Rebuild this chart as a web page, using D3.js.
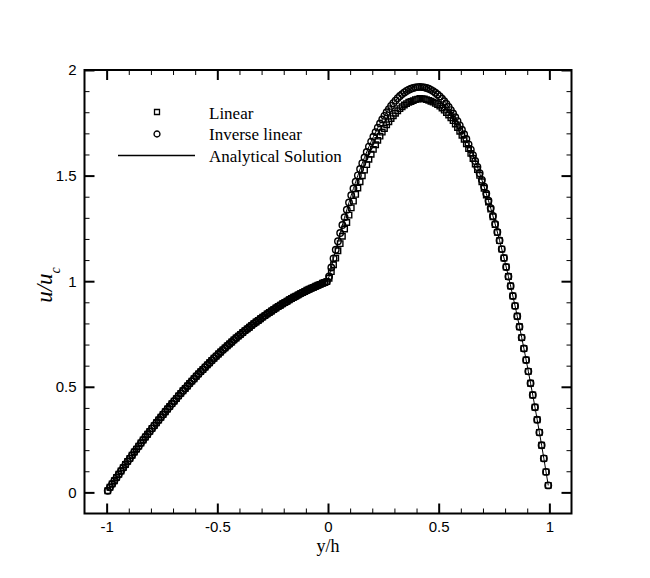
<!DOCTYPE html>
<html>
<head>
<meta charset="utf-8">
<script src="https://cdn.jsdelivr.net/npm/d3@7"></script>
<style>
  body { margin: 0; background: #fff; }
  .tick text { font-family: "Liberation Sans", Arial, sans-serif; font-size: 15px; fill: #000; }
</style>
</head>
<body>
<script>
// y/h positions, lower half and upper half of the channel
const yhLeft = [-0.995,-0.985,-0.975,-0.965,-0.955,-0.945,-0.935,-0.925,-0.915,-0.905,
  -0.895,-0.885,-0.875,-0.865,-0.855,-0.845,-0.835,-0.825,-0.815,-0.805,
  -0.795,-0.785,-0.775,-0.765,-0.755,-0.745,-0.735,-0.725,-0.715,-0.705,
  -0.695,-0.685,-0.675,-0.665,-0.655,-0.645,-0.635,-0.625,-0.615,-0.605,
  -0.595,-0.585,-0.575,-0.565,-0.555,-0.545,-0.535,-0.525,-0.515,-0.505,
  -0.495,-0.485,-0.475,-0.465,-0.455,-0.445,-0.435,-0.425,-0.415,-0.405,
  -0.395,-0.385,-0.375,-0.365,-0.355,-0.345,-0.335,-0.325,-0.315,-0.305,
  -0.295,-0.285,-0.275,-0.265,-0.255,-0.245,-0.235,-0.225,-0.215,-0.205,
  -0.195,-0.185,-0.175,-0.165,-0.155,-0.145,-0.135,-0.125,-0.115,-0.105,
  -0.095,-0.085,-0.075,-0.065,-0.055,-0.045,-0.035,-0.025,-0.015,-0.005];
const yhRight = [0.005,0.015,0.025,0.035,0.045,0.055,0.065,0.075,0.085,0.095,
  0.105,0.115,0.125,0.135,0.145,0.155,0.165,0.175,0.185,0.195,
  0.205,0.215,0.225,0.235,0.245,0.255,0.265,0.275,0.285,0.295,
  0.305,0.315,0.325,0.335,0.345,0.355,0.365,0.375,0.385,0.395,
  0.405,0.415,0.425,0.435,0.445,0.455,0.465,0.475,0.485,0.495,
  0.505,0.515,0.525,0.535,0.545,0.555,0.565,0.575,0.585,0.595,
  0.605,0.615,0.625,0.635,0.645,0.655,0.665,0.675,0.685,0.695,
  0.705,0.715,0.725,0.735,0.745,0.755,0.765,0.775,0.785,0.795,
  0.805,0.815,0.825,0.835,0.845,0.855,0.865,0.875,0.885,0.895,
  0.905,0.915,0.925,0.935,0.945,0.955,0.965,0.975,0.985,0.995];

// u/uc in the lower half (both schemes coincide there)
const uLeft = [0.008,0.024,0.040,0.055,0.071,0.086,0.101,0.117,0.132,0.147,
  0.161,0.176,0.191,0.205,0.219,0.234,0.248,0.262,0.275,0.289,
  0.303,0.316,0.330,0.343,0.356,0.369,0.382,0.395,0.407,0.420,
  0.432,0.444,0.457,0.469,0.481,0.492,0.504,0.516,0.527,0.538,
  0.550,0.561,0.572,0.582,0.593,0.604,0.614,0.625,0.635,0.645,
  0.655,0.665,0.675,0.684,0.694,0.703,0.712,0.722,0.731,0.740,
  0.748,0.757,0.766,0.774,0.782,0.791,0.799,0.807,0.814,0.822,
  0.830,0.837,0.845,0.852,0.859,0.866,0.873,0.880,0.886,0.893,
  0.899,0.905,0.912,0.918,0.924,0.929,0.935,0.941,0.946,0.951,
  0.957,0.962,0.967,0.971,0.976,0.981,0.985,0.990,0.994,0.998];

// upper half, "Inverse linear" (circles)
const inverseRight = [1.022,1.065,1.108,1.149,1.189,1.228,1.266,1.303,1.338,1.373,
  1.407,1.439,1.471,1.501,1.531,1.559,1.586,1.612,1.637,1.661,
  1.684,1.706,1.727,1.747,1.766,1.783,1.800,1.815,1.830,1.843,
  1.855,1.867,1.877,1.886,1.894,1.901,1.907,1.911,1.915,1.918,
  1.919,1.920,1.919,1.918,1.915,1.911,1.906,1.900,1.892,1.884,
  1.875,1.864,1.852,1.839,1.825,1.810,1.794,1.776,1.758,1.738,
  1.717,1.696,1.673,1.648,1.623,1.597,1.569,1.541,1.511,1.480,
  1.448,1.415,1.381,1.346,1.309,1.271,1.233,1.193,1.152,1.110,
  1.067,1.022,0.977,0.930,0.883,0.834,0.784,0.733,0.681,0.627,
  0.573,0.517,0.461,0.403,0.344,0.284,0.223,0.161,0.097,0.033];

// upper half, "Linear" (squares)
const linearRight = [1.014,1.045,1.078,1.109,1.144,1.178,1.213,1.247,1.278,1.313,
  1.347,1.379,1.411,1.441,1.471,1.499,1.526,1.552,1.577,1.601,
  1.624,1.646,1.667,1.687,1.706,1.723,1.740,1.755,1.770,1.783,
  1.795,1.807,1.817,1.826,1.834,1.841,1.847,1.851,1.855,1.860,
  1.862,1.865,1.864,1.863,1.860,1.856,1.852,1.848,1.842,1.836,
  1.829,1.820,1.810,1.799,1.787,1.774,1.760,1.744,1.728,1.710,
  1.691,1.672,1.651,1.628,1.605,1.581,1.555,1.529,1.501,1.471,
  1.440,1.408,1.375,1.341,1.305,1.268,1.231,1.192,1.152,1.110,
  1.067,1.022,0.977,0.930,0.883,0.834,0.784,0.733,0.681,0.627,
  0.573,0.517,0.461,0.403,0.344,0.284,0.223,0.161,0.097,0.033];

const xTicks = [-1, -0.5, 0, 0.5, 1];
const xMinor = [-0.9,-0.8,-0.7,-0.6,-0.4,-0.3,-0.2,-0.1,0.1,0.2,0.3,0.4,0.6,0.7,0.8,0.9];
const yTicks = [0, 0.5, 1, 1.5, 2];
const yMinor = [0.1,0.2,0.3,0.4,0.6,0.7,0.8,0.9,1.1,1.2,1.3,1.4,1.6,1.7,1.8,1.9];
const legendNames = ["Linear", "Inverse linear", "Analytical Solution"];

const yh = yhLeft.concat(yhRight);
const linearU = uLeft.concat(linearRight);
const inverseU = uLeft.concat(inverseRight);
const analyticalU = inverseU;

const svg = d3.select("body").append("svg")
    .attr("width", 650)
    .attr("height", 578);

const x = d3.scaleLinear().domain([-1.1, 1.1]).range([84.5, 571.5]);
const y = d3.scaleLinear().domain([-0.1, 2]).range([513.5, 70]);

const fmt = d => String(d);

// bottom / left axes with labels, ticks pointing inward
svg.append("g").attr("class", "ax")
    .attr("transform", "translate(0,513.5)")
    .call(d3.axisBottom(x).tickValues(xTicks).tickSize(-10).tickPadding(8).tickFormat(fmt));
svg.append("g").attr("class", "ax")
    .attr("transform", "translate(0,513.5)")
    .call(d3.axisBottom(x).tickValues(xMinor).tickSize(-5).tickFormat(""));
svg.append("g").attr("class", "ax")
    .attr("transform", "translate(84.5,0)")
    .call(d3.axisLeft(y).tickValues(yTicks).tickSize(-10).tickPadding(8).tickFormat(fmt));
svg.append("g").attr("class", "ax")
    .attr("transform", "translate(84.5,0)")
    .call(d3.axisLeft(y).tickValues(yMinor).tickSize(-5).tickFormat(""));

// mirrored ticks on top / right
svg.append("g").attr("class", "ax")
    .attr("transform", "translate(0,70)")
    .call(d3.axisTop(x).tickValues(xTicks).tickSize(-10).tickFormat(""));
svg.append("g").attr("class", "ax")
    .attr("transform", "translate(0,70)")
    .call(d3.axisTop(x).tickValues(xMinor).tickSize(-5).tickFormat(""));
svg.append("g").attr("class", "ax")
    .attr("transform", "translate(571.5,0)")
    .call(d3.axisRight(y).tickValues(yTicks).tickSize(-10).tickFormat(""));
svg.append("g").attr("class", "ax")
    .attr("transform", "translate(571.5,0)")
    .call(d3.axisRight(y).tickValues(yMinor).tickSize(-5).tickFormat(""));

svg.selectAll(".ax .domain").remove();
svg.selectAll(".ax .tick line").attr("stroke", "#000").attr("stroke-width", 1);
svg.selectAll(".ax").filter((d, i) => i % 2 === 0).selectAll(".tick line").attr("stroke-width", 2);

svg.append("rect")
    .attr("x", 84.5).attr("y", 70)
    .attr("width", 487).attr("height", 443.5)
    .attr("fill", "none")
    .attr("stroke", "#000")
    .attr("stroke-width", 2);

// data
const pts = yh.map((v, i) => ({ yh: v, lin: linearU[i], inv: inverseU[i], ana: analyticalU[i] }));

const sq = d3.symbol().type(d3.symbolSquare).size(30);
const ci = d3.symbol().type(d3.symbolCircle).size(33);

svg.append("g").selectAll("path")
    .data(pts)
    .enter()
    .append("path")
    .attr("d", sq)
    .attr("transform", d => `translate(${x(d.yh)},${y(d.lin)})`)
    .attr("fill", "none")
    .attr("stroke", "#000")
    .attr("stroke-width", 1.4);

svg.append("g").selectAll("path")
    .data(pts)
    .enter()
    .append("path")
    .attr("d", ci)
    .attr("transform", d => `translate(${x(d.yh)},${y(d.inv)})`)
    .attr("fill", "none")
    .attr("stroke", "#000")
    .attr("stroke-width", 1.4);

svg.append("path")
    .datum(pts)
    .attr("fill", "none")
    .attr("stroke", "#000")
    .attr("stroke-width", 1)
    .attr("d", d3.line().x(d => x(d.yh)).y(d => y(d.ana)));

// legend
const leg = svg.append("g")
    .style("font-family", "'Liberation Serif', 'Times New Roman', serif")
    .style("font-size", "17px");
leg.append("path").attr("d", d3.symbol().type(d3.symbolSquare).size(25)).attr("transform", "translate(157,112)")
    .attr("fill", "none").attr("stroke", "#000").attr("stroke-width", 1.3);
leg.append("path").attr("d", d3.symbol().type(d3.symbolCircle).size(28)).attr("transform", "translate(157,134)")
    .attr("fill", "none").attr("stroke", "#000").attr("stroke-width", 1.3);
leg.append("line").attr("x1", 118).attr("x2", 195).attr("y1", 155.5).attr("y2", 155.5)
    .attr("stroke", "#000").attr("stroke-width", 1.3);
leg.selectAll("text")
    .data(legendNames)
    .enter()
    .append("text")
    .attr("x", 209)
    .attr("y", (d, i) => 119 + i * 21.3)
    .text(d => d);

// axis titles
svg.append("text")
    .attr("x", 328).attr("y", 552)
    .attr("text-anchor", "middle")
    .style("font-family", "'Liberation Serif', 'Times New Roman', serif")
    .style("font-size", "18px")
    .text("y/h");

const yt = svg.append("text")
    .attr("transform", "translate(52,285) rotate(-90)")
    .attr("text-anchor", "middle")
    .style("font-family", "'Liberation Serif', 'Times New Roman', serif")
    .style("font-style", "italic")
    .style("font-size", "23px");
yt.append("tspan").text("u/u");
yt.append("tspan").attr("baseline-shift", "sub").style("font-size", "14px").text("c");
</script>
</body>
</html>
